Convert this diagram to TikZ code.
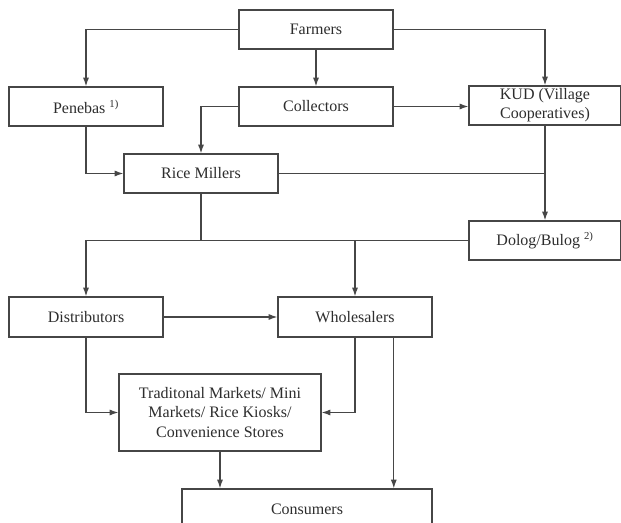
\documentclass[tikz,border=0pt]{standalone}
\usepackage{fontspec}
\setmainfont{Liberation Serif}
\usepackage{tikz}
\usetikzlibrary{arrows.meta,positioning,calc}
\definecolor{linegray}{RGB}{70, 70, 70}
\definecolor{textgray}{RGB}{45, 45, 45}
\tikzstyle{box} = [rectangle, draw=linegray, line width=0.9pt, fill=white, text=textgray, align=center, inner sep=0pt, font=\fontsize{12}{14.3}\selectfont, minimum width=115.5pt, minimum height=29.25pt]
\tikzstyle{tedge} = [draw=linegray, line width=0.9pt, >={Latex[length=6.5pt,width=4.5pt]}, ->]
\tikzstyle{pline} = [draw=linegray, line width=0.9pt]

\begin{document}
\begin{tikzpicture}[x=0.75pt, y=-0.75pt]
\useasboundingbox (0,0) rectangle (621,523);

% boxes =============================
\node[box] (farmers) at (316,29.5) {Farmers};
\node[box] (penebas) at (86,106.5) {Penebas \textsuperscript{1)}};
\node[box] (collectors) at (316,106.5) {Collectors};
\node[box, minimum width=114pt] (kud) at (545,105.5) {KUD (Village\\Cooperatives)};
\node[box] (millers) at (201,173.5) {Rice Millers};
\node[box, minimum width=114pt] (dolog) at (545,240.5) {Dolog/Bulog \textsuperscript{2)}};
\node[box, minimum height=30pt] (distributors) at (86,317) {Distributors};
\node[box, minimum height=30pt] (wholesalers) at (355,317) {Wholesalers};
\node[box, minimum width=151.5pt, minimum height=57.75pt] (markets) at (220,412.5) {Traditonal Markets/ Mini\\Markets/ Rice Kiosks/\\Convenience Stores};
\node[box, minimum width=187.5pt, minimum height=30pt] (consumers) at (307,509) {Consumers};

% edges
\path[tedge] (farmers.west) -| (penebas.north);
\path[tedge] (farmers.south) -- (collectors.north);
\path[tedge] (farmers.east) -| (kud.north);
\path[tedge] (collectors.east) -- (collectors.east -| kud.west);
\path[tedge] (collectors.west) -| (millers.north);
\path[tedge] (penebas.south) |- (millers.west);
\path[tedge] (kud.south) -- (dolog.north);
\coordinate (join) at (millers.east -| kud.south);
\path[pline] (millers.east) -- (join);
\coordinate (split) at (millers.south |- dolog.west);
\path[pline] (millers.south) -- (split);
\path[tedge] (dolog.west) -| (distributors.north);
\path[tedge] (dolog.west -| wholesalers.north) -- (wholesalers.north);
\path[tedge] (distributors.east) -- (wholesalers.west);
\path[tedge] (distributors.south) |- (markets.west);
\path[tedge] (wholesalers.south) |- (markets.east);
\path[tedge] (markets.south) -- (markets.south |- consumers.north);
\coordinate (wright) at ($(wholesalers.south)!.5!(wholesalers.south east)$);
\path[tedge] (wright) -- (wright |- consumers.north);

\end{tikzpicture}
\end{document}
